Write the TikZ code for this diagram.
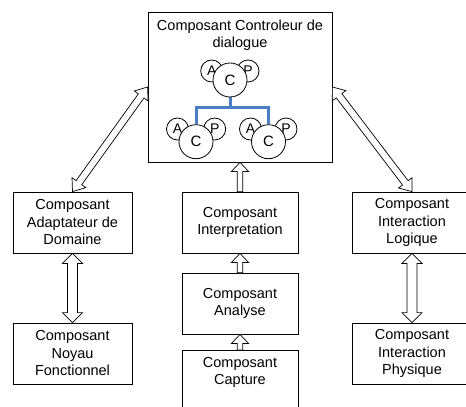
\documentclass[tikz,border=0pt]{standalone}
\usepackage{fontspec}
\setmainfont{Liberation Sans}
\usetikzlibrary{calc,backgrounds}
\definecolor{linkblue}{RGB}{74,126,196}
\newcommand\hollowblockarrow[5]{% from #1 to #2 (tip), shaft half width #3, head half width #4, head length #5
  \path ($(#2)!#5!(#1)$) coordinate (ha);
  \draw[arr] ($(#1)!#3!90:(#2)$) -- ($(ha)!#3!90:(#2)$) -- ($(ha)!#4!90:(#2)$) -- (#2)
    -- ($(ha)!#4!-90:(#2)$) -- ($(ha)!#3!-90:(#2)$) -- ($(#1)!#3!-90:(#2)$) -- cycle;}
\newcommand\hollowdblarrow[5]{% tips at #1 and #2
  \path ($(#1)!#5!(#2)$) coordinate (ha) ($(#2)!#5!(#1)$) coordinate (hb);
  \draw[arr] (#1) -- ($(ha)!#4!90:(#2)$) -- ($(ha)!#3!90:(#2)$) -- ($(hb)!#3!90:(#2)$)
    -- ($(hb)!#4!90:(#2)$) -- (#2) -- ($(hb)!#4!-90:(#2)$) -- ($(hb)!#3!-90:(#2)$)
    -- ($(ha)!#3!-90:(#2)$) -- ($(ha)!#4!-90:(#2)$) -- cycle;}
\begin{document}
\begin{tikzpicture}[x=1pt,y=-1pt,
  box/.style={draw, line width=0.8pt, align=center, inner sep=0pt,
    minimum height=61pt, font=\fontsize{14.5}{17.5}\selectfont},
  sidebox/.style={box, minimum width=119pt},
  midbox/.style={box, minimum width=116pt},
  circ/.style={circle, draw, fill=white, line width=0.8pt, inner sep=0pt,
    font=\fontsize{14}{14}\selectfont},
  small/.style={circ, minimum size=22pt},
  big/.style={circ, minimum size=34pt, font=\fontsize{15}{15}\selectfont},
  arr/.style={draw=black, fill=white, line width=0.7pt, line join=miter},
  blueline/.style={draw=linkblue, line width=3pt}]
\path[use as bounding box] (0,0) rectangle (466,407);

% top controller box
\node[draw, line width=0.8pt, minimum width=184pt, minimum height=150pt, inner sep=0pt] (ctrl) at (240,87) {};
\node[align=center, inner sep=0pt, font=\fontsize{14.5}{16.5}\selectfont] (title) at (240,35) {Composant Controleur de\\dialogue};

% circles
\node[small] (a1) at (211.7,71) {A};
\node[small] (p1) at (248,71) {P};
\node[big] (c1) at (230,80) {C};
\node[small] (a2) at (177.5,129) {A};
\node[small] (p2) at (214.7,129) {P};
\node[big] (c2) at (196,141.7) {C};
\node[small] (a3) at (250.5,129) {A};
\node[small] (p3) at (286,129) {P};
\node[big] (c3) at (268.5,141.7) {C};
\coordinate (bar) at (230,107.3);
\begin{pgfonlayer}{background}
  \draw[blueline] (c1.south) -- (bar);
  \draw[blueline] (c2.north) |- (bar) -| (c3.north);
\end{pgfonlayer}

% boxes
\node[sidebox] (adapt) at (72.5,222.5) {Composant\\Adaptateur de\\Domaine};
\node[sidebox] (noyau) at (72.5,353.5) {Composant\\Noyau\\Fonctionnel};
\node[midbox] (interp) at (240,222.5) {Composant\\Interpretation};
\node[midbox] (analyse) at (240,303.5) {Composant\\Analyse};
\node[midbox, anchor=north, inner ysep=6.5pt, text depth=42pt] (capture) at (240,350) {Composant\\Capture};
\node[sidebox] (logique) at (412,222.5) {Composant\\Interaction\\Logique};
\node[sidebox] (physique) at (412,353.5) {Composant\\Interaction\\Physique};

% arrows
\hollowblockarrow{interp.north}{ctrl.south}{2.7pt}{8.5pt}{9pt}
\hollowblockarrow{analyse.north}{interp.south}{2.7pt}{8.5pt}{9pt}
\hollowblockarrow{capture.north}{analyse.south}{2.7pt}{8.5pt}{9pt}
\hollowdblarrow{adapt.south}{noyau.north}{5pt}{10pt}{10pt}
\hollowdblarrow{logique.south}{physique.north}{5pt}{10pt}{10pt}
\hollowdblarrow{ctrl.west}{adapt.north}{3.5pt}{8.5pt}{11pt}
\hollowdblarrow{ctrl.east}{logique.north}{3.5pt}{8.5pt}{11pt}
\end{tikzpicture}
\end{document}
